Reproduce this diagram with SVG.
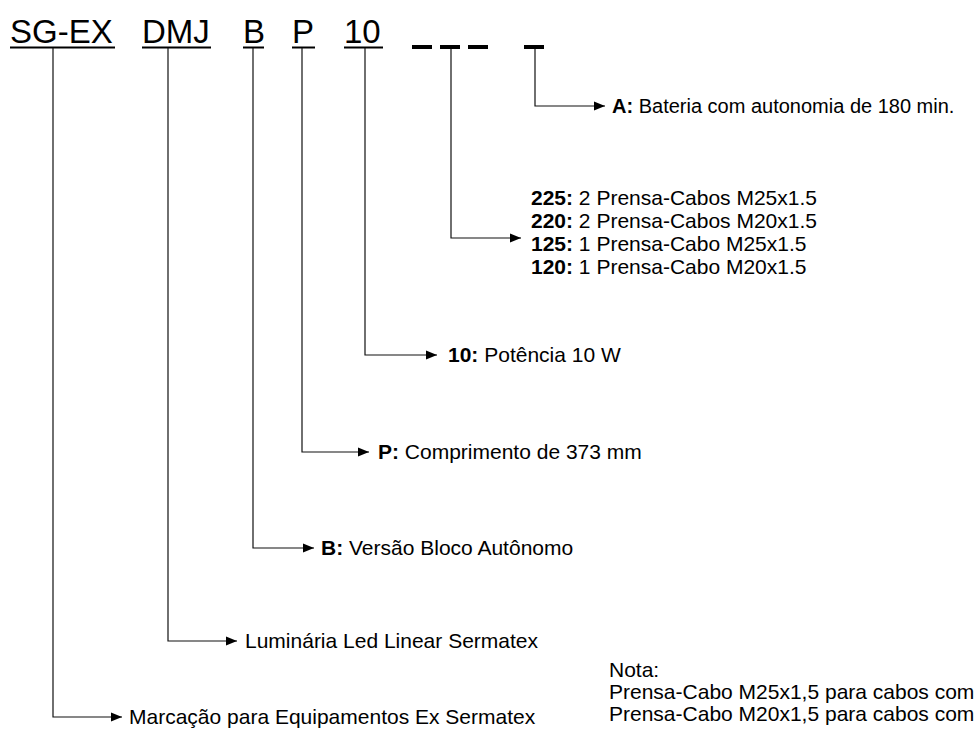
<svg xmlns="http://www.w3.org/2000/svg" width="979" height="731" viewBox="0 0 979 731">
<style>
text{font-family:"Liberation Sans",Arial,sans-serif;fill:#000}
.t{font-size:33px}
.l{font-size:21px}
.b{font-weight:bold}
.c{stroke:#111;stroke-width:1.2;fill:none}
.u{stroke:#000;stroke-width:2}
.d{stroke:#000;stroke-width:4}
</style>
<defs>
<marker id="ah" markerWidth="11" markerHeight="10" refX="11" refY="5" orient="auto" markerUnits="userSpaceOnUse">
<path d="M0,0.5 L11,5 L0,9.5 Z" fill="#000"/>
</marker>
</defs>
<rect width="979" height="731" fill="#fff"/>
<g id="code">
<text class="t" x="10" y="43">SG-EX</text>
<text class="t" x="142" y="43">DMJ</text>
<text class="t" x="243" y="43">B</text>
<text class="t" x="292" y="43">P</text>
<text class="t" x="344" y="43">10</text>
<line class="u" x1="10" y1="47.5" x2="115" y2="47.5"/>
<line class="u" x1="142" y1="47.5" x2="211" y2="47.5"/>
<line class="u" x1="243" y1="47.5" x2="264" y2="47.5"/>
<line class="u" x1="292" y1="47.5" x2="315" y2="47.5"/>
<line class="u" x1="344" y1="47.5" x2="383" y2="47.5"/>
<line class="d" x1="412" y1="47" x2="432" y2="47"/>
<line class="d" x1="440" y1="47" x2="460" y2="47"/>
<line class="d" x1="468" y1="47" x2="488" y2="47"/>
<line class="d" x1="524" y1="47" x2="544" y2="47"/>
</g>
<g id="connectors">
<polyline class="c" points="535,49 535,106 605,106" marker-end="url(#ah)"/>
<polyline class="c" points="451,49 451,238 521,238" marker-end="url(#ah)"/>
<polyline class="c" points="365,48 365,355 437,355" marker-end="url(#ah)"/>
<polyline class="c" points="302,48 302,452 369,452" marker-end="url(#ah)"/>
<polyline class="c" points="253,48 253,548 314,548" marker-end="url(#ah)"/>
<polyline class="c" points="168,48 168,641 237,641" marker-end="url(#ah)"/>
<polyline class="c" points="53,48 53,717 122,717" marker-end="url(#ah)"/>
</g>
<g id="node-a">
<text class="l" x="612" y="113" style="font-size:20px"><tspan class="b">A:</tspan> Bateria com autonomia de 180 min.</text>
</g>
<g id="node-prensa">
<text class="l" x="531" y="205"><tspan class="b">225:</tspan> 2 Prensa-Cabos M25x1.5</text>
<text class="l" x="531" y="228"><tspan class="b">220:</tspan> 2 Prensa-Cabos M20x1.5</text>
<text class="l" x="531" y="251"><tspan class="b">125:</tspan> 1 Prensa-Cabo M25x1.5</text>
<text class="l" x="531" y="274"><tspan class="b">120:</tspan> 1 Prensa-Cabo M20x1.5</text>
</g>
<g id="node-10">
<text class="l" x="448" y="362"><tspan class="b">10:</tspan> Potência 10 W</text>
</g>
<g id="node-p">
<text class="l" x="378" y="459"><tspan class="b">P:</tspan> Comprimento de 373 mm</text>
</g>
<g id="node-b">
<text class="l" x="321" y="555"><tspan class="b">B:</tspan> Versão Bloco Autônomo</text>
</g>
<g id="node-dmj">
<text class="l" x="245" y="648">Luminária Led Linear Sermatex</text>
</g>
<g id="node-sgex">
<text class="l" x="129" y="724">Marcação para Equipamentos Ex Sermatex</text>
</g>
<g id="note">
<text class="l" x="609" y="677">Nota:</text>
<text class="l" x="609" y="699">Prensa-Cabo M25x1,5 para cabos com</text>
<text class="l" x="609" y="721">Prensa-Cabo M20x1,5 para cabos com</text>
</g>
</svg>
